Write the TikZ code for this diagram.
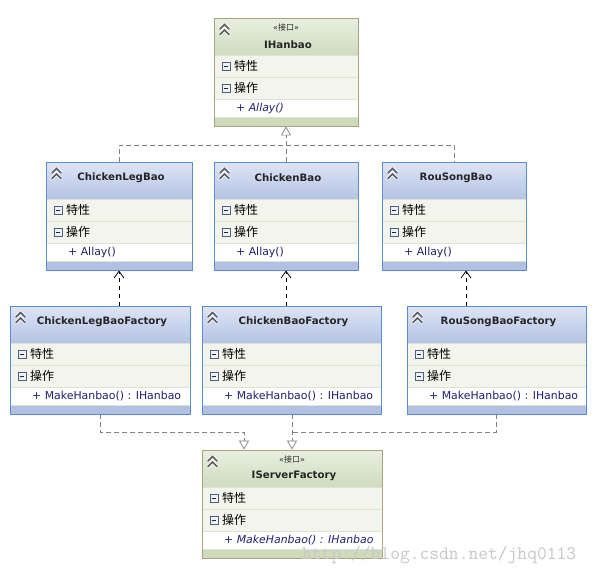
\documentclass[tikz,border=0pt]{standalone}
\usepackage{fontspec}
\setmainfont{DejaVu Sans}
\newfontfamily\cjk{Noto Sans CJK SC}
\usetikzlibrary{arrows.meta,fit}
\definecolor{clstop}{HTML}{DDE5F5}
\definecolor{clsbot}{HTML}{B5C4E5}
\definecolor{clsband}{HTML}{B1C0E1}
\definecolor{clsborder}{HTML}{5A8ED3}
\definecolor{itftop}{HTML}{E8EFE0}
\definecolor{itfbot}{HTML}{CFDCBF}
\definecolor{itfband}{HTML}{CDDBBB}
\definecolor{itfborder}{HTML}{A9A47C}
\definecolor{rowbg}{HTML}{F3F5ED}
\definecolor{rowline}{HTML}{DDE3D5}
\definecolor{iconb}{HTML}{4C6180}
\definecolor{iconf}{HTML}{EEF2F8}
\definecolor{chevc}{HTML}{5A5A5A}
\definecolor{conng}{HTML}{808080}
\definecolor{methc}{HTML}{202070}
\definecolor{wmc}{HTML}{C8C8C8}
\tikzset{
  chev/.pic={
    \draw[white,line width=3pt,line cap=round] (-4.5,-1)--(0,-5.5)--(4.5,-1) (-4.5,4.5)--(0,0)--(4.5,4.5);
    \draw[chevc,line width=1.7pt,line cap=round] (-4.5,-1)--(0,-5.5)--(4.5,-1) (-4.5,4.5)--(0,0)--(4.5,4.5);
  },
  coll/.pic={
    \draw[draw=iconb,fill=iconf,line width=0.6pt] (-4,-4) rectangle (4,4);
    \draw[black!85,line width=1pt] (-2.2,0)--(2.2,0);
  },
  titletxt/.style={font=\fontsize{10.2}{12}\selectfont\bfseries,text=black!85,inner sep=0pt},
  stereotxt/.style={font=\fontsize{8}{9}\selectfont,text=black!85,inner sep=0pt},
  rowtxt/.style={font=\cjk\fontsize{12}{14}\selectfont,text=black,inner sep=0pt,anchor=west},
  methtxt/.style={font=\fontsize{10.9}{12}\selectfont,text=methc,inner sep=0pt,anchor=west},
  realline/.style={draw=conng,line width=0.7pt,dash pattern=on 5pt off 3pt},
  realarrow/.style={realline,-{Triangle[open,length=9pt,width=10pt]}},
  deparrow/.style={draw=black,line width=0.8pt,dash pattern=on 4pt off 4pt,-{Straight Barb[length=7pt,width=10pt]}},
}
\newcommand\umlbox[9]{%
  \pgfmathsetmacro\umlcx{(#2+#4)/2}%
  \coordinate (#1-nw) at (#2,#3);
  \coordinate (#1-se) at (#4,#3+108);
  \fill[top color=#5top,bottom color=#5bot] (#2,#3) rectangle (#4,#3+37);
  \fill[rowbg] (#2,#3+37) rectangle (#4,#3+81);
  \fill[white] (#2,#3+81) rectangle (#4,#3+99);
  \fill[#5band] (#2,#3+99) rectangle (#4,#3+108);
  \draw[rowline] (#2,#3+37.5) -- (#4,#3+37.5);
  \draw[rowline] (#2,#3+59) -- (#4,#3+59);
  \draw[rowline] (#2,#3+81) -- (#4,#3+81);
  \draw[rowline] (#2,#3+99) -- (#4,#3+99);
  \node[fit=(#1-nw)(#1-se),inner sep=0pt,draw=#5border,line width=0.9pt] (#1) {};
  \pic at (#2+10.5,#3+12) {chev};
  \node[stereotxt] at (\umlcx,#3+9) {#6};
  \node[titletxt] at (\umlcx+2,#3+#9) {#7};
  \pic at (#2+12,#3+48) {coll};
  \node[rowtxt] at (#2+20,#3+48) {特性};
  \pic at (#2+12,#3+70) {coll};
  \node[rowtxt] at (#2+20,#3+70) {操作};
  \node[methtxt] at (#2+22,#3+90) {#8};
}
\begin{document}
\begin{tikzpicture}[x=1pt,y=-1pt]
\useasboundingbox (0,0) rectangle (595,573);
\fill[white] (0,0) rectangle (595,573);

\umlbox{ihanbao}{214}{18}{358}{itf}{«{\cjk 接口}»}{IHanbao}{\textit{+ Allay()}}{27}
\umlbox{clb}{46}{162}{192}{cls}{}{ChickenLegBao}{+ Allay()}{16}
\umlbox{cb}{214}{162}{358}{cls}{}{ChickenBao}{+ Allay()}{16}
\umlbox{rsb}{382}{162}{526}{cls}{}{RouSongBao}{+ Allay()}{16}
\umlbox{clbf}{10}{306}{190}{cls}{}{ChickenLegBaoFactory}{+ MakeHanbao() : IHanbao}{16}
\umlbox{cbf}{202}{306}{381}{cls}{}{ChickenBaoFactory}{+ MakeHanbao() : IHanbao}{16}
\umlbox{rsbf}{407}{306}{586}{cls}{}{RouSongBaoFactory}{+ MakeHanbao() : IHanbao}{16}
\umlbox{isf}{202}{450}{382}{itf}{«{\cjk 接口}»}{IServerFactory}{\textit{+ MakeHanbao() : IHanbao}}{26}

\coordinate (tbar) at (0,145);
\coordinate (bbar) at (0,432);

% realization to IHanbao
\draw[realline] (clb.north) |- (rsb.north |- tbar) -- (rsb.north);
\draw[realarrow] (cb.north) -- (ihanbao.south);

% dependencies factory -> product
\draw[deparrow] (clb.south |- clbf.north) -- (clb.south);
\draw[deparrow] (cb.south |- cbf.north) -- (cb.south);
\draw[deparrow] ([xshift=12pt]rsb.south |- rsbf.north) -- ([xshift=12pt]rsb.south);

% realization to IServerFactory
\draw[realarrow] (clbf.south) |- ([xshift=-48pt]isf.north |- bbar) -- ([xshift=-48pt]isf.north);
\draw[realline] (rsbf.south) |- (isf.north |- bbar);
\draw[realarrow] (isf.north |- cbf.south) -- (isf.north);

% watermark
\node[anchor=base west,inner sep=0pt,text=wmc,font=\ttfamily\fontsize{19}{19}\selectfont] (wm) at (302,559) {http://blog.csdn.net/jhq0113};
\end{tikzpicture}
\end{document}
